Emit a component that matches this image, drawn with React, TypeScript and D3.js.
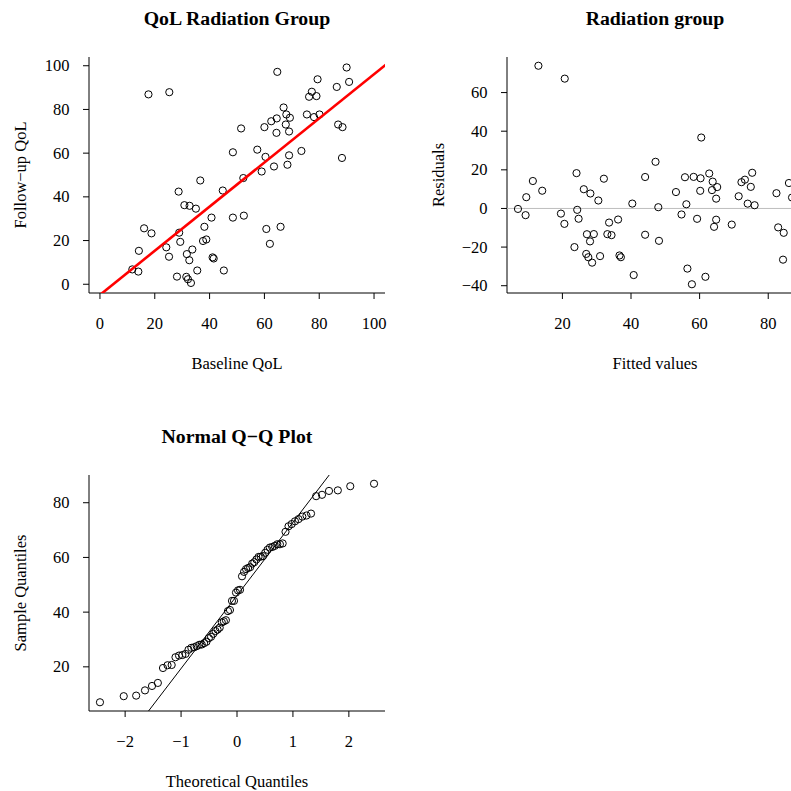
import React from "react";
import * as d3 from "d3";

// Baseline QoL (x) and Follow-up QoL (y), radiation group
const baseline = [
  17.7, 25.3, 36.6, 28.7, 44.8, 30.8, 32.7, 35.0, 40.7, 48.5,
  16.1, 18.8, 28.9, 38.1, 29.3, 37.6, 38.8, 24.2, 14.2, 33.7,
  31.7, 25.2, 32.6, 41.1, 41.5, 11.8, 14.0, 35.5, 45.2, 28.1,
  31.5, 32.1, 33.2, 64.7, 90.0, 79.4, 90.9, 86.4, 77.3, 76.3,
  79.0, 67.0, 68.0, 69.3, 64.5, 62.5, 60.0, 67.8, 75.5, 78.1,
  80.1, 51.5, 64.4, 69.0, 86.9, 88.5, 48.5, 57.4, 60.4, 69.0,
  73.5, 88.3, 59.0, 63.5, 68.4, 52.3, 52.5, 60.7, 65.9, 62.0,
];
const followup = [
  86.9, 87.9, 47.5, 42.4, 42.9, 36.2, 35.9, 34.6, 30.5, 30.5,
  25.6, 23.3, 23.6, 26.3, 19.4, 19.8, 20.5, 16.9, 15.3, 15.9,
  13.8, 12.6, 11.0, 12.3, 11.8, 6.8, 5.8, 6.3, 6.3, 3.5,
  3.4, 2.3, 0.6, 97.2, 99.2, 93.8, 92.6, 90.3, 88.1, 85.8,
  86.1, 80.9, 77.7, 76.2, 75.9, 74.6, 71.9, 73.1, 77.7, 76.5,
  77.7, 71.3, 69.3, 69.9, 73.1, 71.9, 60.4, 61.6, 58.3, 59.0,
  61.0, 57.8, 51.6, 53.9, 54.7, 48.6, 31.4, 25.3, 26.3, 18.5,
];

const p1XTicks = [0, 20, 40, 60, 80, 100];
const p1YTicks = [0, 20, 40, 60, 80, 100];
const p2XTicks = [20, 40, 60, 80];
const p2YTicks = [-40, -20, 0, 20, 40, 60];
const p3XTicks = [-2, -1, 0, 1, 2];
const p3YTicks = [20, 40, 60, 80];

const titles = ["QoL Radiation Group", "Radiation group", "Normal Q\u2212Q Plot"];
const xLabels = ["Baseline QoL", "Fitted values", "Theoretical Quantiles"];
const yLabels = ["Follow\u2212up QoL", "Residuals", "Sample Quantiles"];

const FONT = "'Liberation Serif', 'Times New Roman', serif";
const FS = 16.5;
const TFS = 19.8;

// inverse normal CDF (Acklam)
function qnorm(p: number): number {
  const a = [-3.969683028665376e1, 2.209460984245205e2, -2.759285104469687e2, 1.38357751867269e2, -3.066479806614716e1, 2.506628277459239];
  const b = [-5.447609879822406e1, 1.615858368580409e2, -1.556989798598866e2, 6.680131188771972e1, -1.328068155288572e1];
  const c = [-7.784894002430293e-3, -3.223964580411365e-1, -2.400758277161838, -2.549732539343734, 4.374664141464968, 2.938163982698783];
  const d = [7.784695709041462e-3, 3.224671290700398e-1, 2.445134137142996, 3.754408661907416];
  const pl = 0.02425;
  if (p < pl) {
    const q = Math.sqrt(-2 * Math.log(p));
    return (((((c[0] * q + c[1]) * q + c[2]) * q + c[3]) * q + c[4]) * q + c[5]) / ((((d[0] * q + d[1]) * q + d[2]) * q + d[3]) * q + 1);
  }
  if (p > 1 - pl) {
    const q = Math.sqrt(-2 * Math.log(1 - p));
    return -(((((c[0] * q + c[1]) * q + c[2]) * q + c[3]) * q + c[4]) * q + c[5]) / ((((d[0] * q + d[1]) * q + d[2]) * q + d[3]) * q + 1);
  }
  const q = p - 0.5;
  const r = q * q;
  return ((((((a[0] * r + a[1]) * r + a[2]) * r + a[3]) * r + a[4]) * r + a[5]) * q) / (((((b[0] * r + b[1]) * r + b[2]) * r + b[3]) * r + b[4]) * r + 1);
}

const pad = (vals: number[]): [number, number] => {
  const [lo, hi] = d3.extent(vals) as [number, number];
  const r = hi - lo;
  return [lo - 0.04 * r, hi + 0.04 * r];
};

const fmt = (v: number) => String(v).replace("-", "\u2212");

type Box = { x0: number; x1: number; y0: number; y1: number };

function Frame({ box, xs, ys, xTicks, yTicks, title, xLabel, yLabel }: any) {
  const cx = (box.x0 + box.x1) / 2;
  const cy = (box.y0 + box.y1) / 2;
  return (
    <g fontFamily={FONT} fill="#000">
      <text x={cx} y={box.y0 - 32} textAnchor="middle" fontSize={TFS} fontWeight="bold">{title}</text>
      <path d={`M${box.x0},${box.y0}V${box.y1}H${box.x1}`} fill="none" stroke="#000" strokeWidth={1} />
      {xTicks.map((t: number) => (
        <g key={"x" + t}>
          <line x1={xs(t)} x2={xs(t)} y1={box.y1} y2={box.y1 + 6} stroke="#000" strokeWidth={1} />
          <text x={xs(t)} y={box.y1 + 36} textAnchor="middle" fontSize={FS}>{fmt(t)}</text>
        </g>
      ))}
      {yTicks.map((t: number) => (
        <g key={"y" + t}>
          <line x1={box.x0 - 6} x2={box.x0} y1={ys(t)} y2={ys(t)} stroke="#000" strokeWidth={1} />
          <text x={box.x0 - 19.5} y={ys(t)} dy="0.33em" textAnchor="end" fontSize={FS}>{fmt(t)}</text>
        </g>
      ))}
      <text x={cx} y={box.y1 + 76} textAnchor="middle" fontSize={FS}>{xLabel}</text>
      <text transform={`translate(${box.x0 - 63},${cy}) rotate(-90)`} textAnchor="middle" fontSize={FS}>{yLabel}</text>
    </g>
  );
}

export default function App() {
  const n = baseline.length;
  const mx = d3.mean(baseline) as number;
  const my = d3.mean(followup) as number;
  const slope =
    d3.sum(baseline.map((x, i) => (x - mx) * (followup[i] - my))) /
    d3.sum(baseline.map((x) => (x - mx) ** 2));
  const icpt = my - slope * mx;
  const fitted = baseline.map((x) => icpt + slope * x);
  const resid = followup.map((y, i) => y - fitted[i]);

  const sortedFit = fitted.slice().sort((a, b) => a - b);
  const theo = sortedFit.map((_, i) => qnorm((i + 1 - 0.5) / n));
  const q1 = d3.quantileSorted(sortedFit, 0.25) as number;
  const q3 = d3.quantileSorted(sortedFit, 0.75) as number;
  const z1 = qnorm(0.25), z3 = qnorm(0.75);
  const qqSlope = (q3 - q1) / (z3 - z1);
  const qqInt = q1 - qqSlope * z1;

  // panel 1
  const b1: Box = { x0: 89, x1: 385, y0: 57, y1: 293 };
  const x1 = d3.scaleLinear().domain([-4, 104]).range([b1.x0, b1.x1]);
  const y1 = d3.scaleLinear().domain([-4, 104]).range([b1.y1, b1.y0]);

  // panel 2
  const b2: Box = { x0: 507, x1: 803, y0: 57, y1: 293 };
  const x2 = d3.scaleLinear().domain(pad(fitted)).range([b2.x0, b2.x1]);
  const y2 = d3.scaleLinear().domain(pad(resid)).range([b2.y1, b2.y0]);

  // panel 3
  const b3: Box = { x0: 89, x1: 385, y0: 475, y1: 711 };
  const x3 = d3.scaleLinear().domain(pad(theo)).range([b3.x0, b3.x1]);
  const y3 = d3.scaleLinear().domain(pad(sortedFit)).range([b3.y1, b3.y0]);

  const fitLine = d3.line<number>().x((v) => x1(v)).y((v) => y1(icpt + slope * v));
  const dx3 = x3.domain();
  const qqLine = d3.line<number>().x((v) => x3(v)).y((v) => y3(qqInt + qqSlope * v));

  const R = 3.6;
  const clip = (b: Box, id: string) => (
    <clipPath id={id}>
      <rect x={b.x0} y={b.y0} width={b.x1 - b.x0} height={b.y1 - b.y0} />
    </clipPath>
  );

  return (
    <svg width={791} height={791} style={{ position: "absolute", left: 0, top: 0, background: "#fff" }}>
      <defs>
        {clip(b1, "c1")}
        {clip(b2, "c2")}
        {clip(b3, "c3")}
      </defs>

      {/* Panel 1 */}
      <Frame box={b1} xs={x1} ys={y1} xTicks={p1XTicks} yTicks={p1YTicks} title={titles[0]} xLabel={xLabels[0]} yLabel={yLabels[0]} />
      <g clipPath="url(#c1)">
        {baseline.map((x, i) => (
          <circle key={i} cx={x1(x)} cy={y1(followup[i])} r={R} fill="none" stroke="#000" strokeWidth={1} />
        ))}
        <path d={fitLine([-10, 110]) as string} stroke="#ff0000" strokeWidth={2.6} fill="none" />
      </g>

      {/* Panel 2 */}
      <Frame box={b2} xs={x2} ys={y2} xTicks={p2XTicks} yTicks={p2YTicks} title={titles[1]} xLabel={xLabels[1]} yLabel={yLabels[1]} />
      <g clipPath="url(#c2)">
        <line x1={b2.x0} x2={b2.x1} y1={y2(0)} y2={y2(0)} stroke="#bebebe" strokeWidth={1} />
        {fitted.map((f, i) => (
          <circle key={i} cx={x2(f)} cy={y2(resid[i])} r={R} fill="none" stroke="#000" strokeWidth={1} />
        ))}
      </g>

      {/* Panel 3 */}
      <Frame box={b3} xs={x3} ys={y3} xTicks={p3XTicks} yTicks={p3YTicks} title={titles[2]} xLabel={xLabels[2]} yLabel={yLabels[2]} />
      <g clipPath="url(#c3)">
        {sortedFit.map((v, i) => (
          <circle key={i} cx={x3(theo[i])} cy={y3(v)} r={R} fill="none" stroke="#000" strokeWidth={1} />
        ))}
        <path d={qqLine([dx3[0] - 1, dx3[1] + 1]) as string} stroke="#000" strokeWidth={1} fill="none" />
      </g>
    </svg>
  );
}
